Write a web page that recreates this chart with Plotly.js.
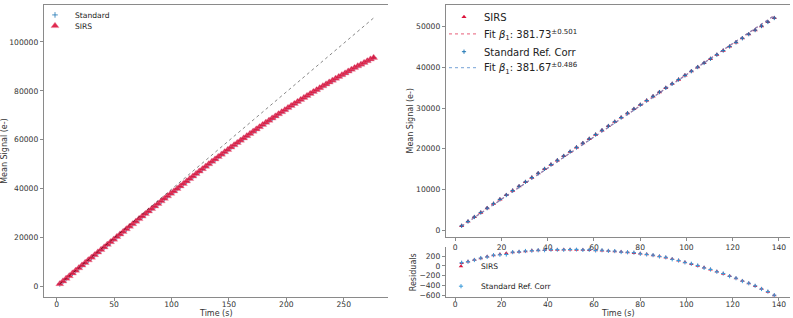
<!DOCTYPE html>
<html>
<head>
<meta charset="utf-8">
<script src="https://cdn.plot.ly/plotly-3.0.1.min.js"></script>
<style>html,body{margin:0;padding:0;background:#fff;}#chart{width:793px;height:318px;}</style>
</head>
<body>
<div id="chart"></div>
<script>
// ---- data ----
const time = [2.76,5.52,8.28,11.04,13.8,16.56,19.32,22.08,24.84,27.6,30.36,33.12,35.88,38.64,41.4,44.16,46.92,49.68,52.44,55.2,
57.96,60.72,63.48,66.24,69,71.76,74.52,77.28,80.04,82.8,85.56,88.32,91.08,93.84,96.6,99.36,102.12,104.88,107.64,110.4,
113.16,115.92,118.68,121.44,124.2,126.96,129.72,132.48,135.24,138,140.76,143.52,146.28,149.04,151.8,154.56,157.32,160.08,162.84,165.6,
168.36,171.12,173.88,176.64,179.4,182.16,184.92,187.68,190.44,193.2,195.96,198.72,201.48,204.24,207,209.76,212.52,215.28,218.04,220.8,
223.56,226.32,229.08,231.84,234.6,237.36,240.12,242.88,245.64,248.4,251.16,253.92,256.68,259.44,262.2,264.96,267.72,270.48,273.24,276];

const sirsLeft = [1116,2197,3291,4372,5460,6540,7615,8689,9763,10830,11890,12958,14018,15079,16136,17192,18247,19300,20353,21404,
22455,23504,24551,25597,26641,27684,28725,29768,30808,31845,32880,33911,34940,35964,36985,38005,39023,40040,41055,42069,
43080,44090,45098,46103,47107,48107,49106,50101,51095,52079,53059,54033,55001,55962,56918,57867,58810,59748,60679,61604,
62522,63435,64342,65242,66136,67025,67907,68783,69653,70516,71374,72225,73071,73910,74743,75570,76391,77206,78014,78817,
79613,80404,81188,81966,82738,83504,84263,85017,85764,86506,87241,87970,88693,89410,90120,90825,91523,92216,92902,93582];

const standardLeft = [1121,2194,3283,4375,5453,6541,7604,8663,9765,10824,11894,12954,14017,15072,16137,17189,18240,19299,20355,21398,
22453,23494,24551,25591,26640,27675,28723,29770,30799,31839,32878,33904,34940,35953,36981,37996,39021,40040,41044,42065,
43070,44088,45087,46099,47094,48102,49103,50090,51091,52063,53071,54015,55026,55954,56933,57845,58816,59767,60668,61607,
62506,63456,64337,65251,66112,67039,67904,68800,69644,70542,71360,72229,73051,73921,74736,75588,76379,77229,78012,78825,
79594,80417,81182,81988,82723,83509,84253,85033,85743,86513,87237,87990,88680,89420,90103,90849,91522,92228,92894,93588];

// reference straight line on the left panel
const refLineX = [2.76, 276];
const refLineY = [1100, 109800];

// right panel (first 50 frames)
const timeRight = time.slice(0, 50);
const sirsRight = sirsLeft.slice(0, 50);
const stdRefCorr = [1121,2194,3283,4375,5453,6541,7604,8663,9765,10824,11894,12954,14017,15072,16137,17189,18240,19299,20355,21398,
22453,23494,24551,25591,26640,27675,28723,29770,30799,31839,32878,33904,34940,35953,36981,37996,39021,40040,41044,42065,
43070,44088,45087,46099,47094,48102,49103,50090,51091,52063];

const fitX = [2.76, 138];
const fitSirs = [1054, 52679];
const fitStd = [1053, 52670];

const resSirs = [62,90,130,158,192,219,240,260,281,294,301,315,322,329,332,335,336,336,335,333,
330,325,319,311,302,291,279,268,254,238,219,197,172,143,110,76,41,4,-34,-74,
-116,-160,-206,-254,-304,-357,-412,-470,-530,-600];
const resStd = [67,87,122,162,186,221,230,235,284,290,307,313,323,324,335,335,332,338,340,330,
331,319,323,309,305,286,281,274,250,237,222,195,177,137,112,73,45,10,-39,-72,
-119,-155,-210,-251,-310,-355,-407,-473,-526,-600];

const leftTicks = [0, 50, 100, 150, 200, 250];
const leftYTicks = [0, 20000, 40000, 60000, 80000, 100000];
const rightTicks = [0, 20, 40, 60, 80, 100, 120, 140];
const rightYTicks = [0, 10000, 20000, 30000, 40000, 50000];
const resYTicks = [-600, -400, -200, 0, 200];

// ---- styling ----
const RED = 'crimson';
const BLUE = '#1f77b4';
const FONT = 'DejaVu Sans';
const W = 793, H = 318;
const px = v => v / W, py = v => 1 - v / H;

const axisBase = {
  showgrid: false, zeroline: false, showline: true, linecolor: '#8a8a8a', linewidth: 1.2,
  ticks: 'outside', ticklen: 3, tickwidth: 1, tickcolor: '#8a8a8a',
  tickfont: {family: FONT, size: 7.6, color: '#333'}, tickformat: 'd', fixedrange: true
};
const titleFont = {family: FONT, size: 8, color: '#333'};

const traces = [
  {x: time, y: standardLeft, type: 'scatter', mode: 'markers', name: 'Standard',
   marker: {symbol: 'cross-thin', size: 4, line: {color: 'rgba(31,119,180,0.8)', width: 1}}, xaxis: 'x', yaxis: 'y', legend: 'legend'},
  {x: time, y: sirsLeft, type: 'scatter', mode: 'markers', name: 'SIRS',
   marker: {symbol: 'triangle-up', size: 7, color: RED, opacity: 0.9, line: {color: 'rgba(240,120,150,0.7)', width: 0.6}},
   xaxis: 'x', yaxis: 'y', legend: 'legend2'},
  {x: refLineX, y: refLineY, type: 'scatter', mode: 'lines', showlegend: false,
   line: {color: 'rgba(0,0,0,0.6)', width: 0.8, dash: 'dot'}, xaxis: 'x', yaxis: 'y'},

  {x: timeRight, y: sirsRight, type: 'scatter', mode: 'markers', name: 'SIRS',
   marker: {symbol: 'triangle-up', size: 4.5, color: RED, line: {width: 0}}, xaxis: 'x2', yaxis: 'y2', legend: 'legend3'},
  {x: fitX, y: fitSirs, type: 'scatter', mode: 'lines', name: 'Fit <i>β</i><sub>1</sub>: 381.73<sup>±0.501</sup>',
   line: {color: 'rgba(220,20,60,0.55)', width: 1.2, dash: 'dot'}, xaxis: 'x2', yaxis: 'y2', legend: 'legend4'},
  {x: timeRight, y: stdRefCorr, type: 'scatter', mode: 'markers', name: 'Standard Ref. Corr',
   marker: {symbol: 'cross-thin', size: 3, line: {color: BLUE, width: 1}}, xaxis: 'x2', yaxis: 'y2', legend: 'legend5'},
  {x: fitX, y: fitStd, type: 'scatter', mode: 'lines', name: 'Fit <i>β</i><sub>1</sub>: 381.67<sup>±0.486</sup>',
   line: {color: 'rgba(70,130,200,0.6)', width: 1.2, dash: 'dot'}, xaxis: 'x2', yaxis: 'y2', legend: 'legend6'},

  {x: timeRight, y: resSirs, type: 'scatter', mode: 'markers', name: 'SIRS',
   marker: {symbol: 'triangle-up', size: 4, color: RED, line: {width: 0}}, xaxis: 'x3', yaxis: 'y3', legend: 'legend7'},
  {x: timeRight, y: resStd, type: 'scatter', mode: 'markers', name: 'Standard Ref. Corr',
   marker: {symbol: 'cross-thin', size: 3, line: {color: '#3a9ad9', width: 1}}, xaxis: 'x3', yaxis: 'y3', legend: 'legend8'}
];

function leg(x, y, size) {
  return {x: px(x), y: py(y), xanchor: 'left', yanchor: 'middle', bgcolor: 'rgba(0,0,0,0)',
          borderwidth: 0, font: {family: FONT, size: size, color: '#222'}, itemclick: false};
}

const layout = {
  width: W, height: H, margin: {l: 0, r: 0, t: 0, b: 0}, paper_bgcolor: '#fff', plot_bgcolor: '#fff',
  showlegend: true, font: {family: FONT, color: '#333'},
  xaxis: Object.assign({}, axisBase, {domain: [px(44), px(388)], range: [-11, 288.5], tickvals: leftTicks, mirror: true,
    anchor: 'y', ticklabelstandoff: -3}),
  yaxis: Object.assign({}, axisBase, {domain: [1 - 297 / H, 1 - 3 / H], range: [-4300, 115100], tickvals: leftYTicks,
    anchor: 'x', title: {text: 'Mean Signal (e-)', font: titleFont, standoff: 2}}),
  xaxis2: Object.assign({}, axisBase, {domain: [px(446), px(790)], range: [-4, 144.8], tickvals: rightTicks, mirror: true,
    anchor: 'y2'}),
  yaxis2: Object.assign({}, axisBase, {domain: [1 - 236 / H, 1 - 3 / H], range: [-1500, 55260], tickvals: rightYTicks,
    anchor: 'x2', title: {text: 'Mean Signal (e-)', font: titleFont, standoff: 1}}),
  xaxis3: Object.assign({}, axisBase, {domain: [px(446), px(790)], range: [-4, 144.8], tickvals: rightTicks,
    anchor: 'y3', ticklabelstandoff: -3}),
  yaxis3: Object.assign({}, axisBase, {domain: [1 - 297 / H, 1 - 247 / H], range: [-640, 380], tickvals: resYTicks,
    anchor: 'x3', title: {text: 'Residuals', font: titleFont, standoff: 1}}),
  annotations: [
    {text: 'Time (s)', xref: 'paper', yref: 'paper', x: px(216), y: py(313), xanchor: 'center', yanchor: 'middle',
     showarrow: false, font: titleFont},
    {text: 'Time (s)', xref: 'paper', yref: 'paper', x: px(618), y: py(313), xanchor: 'center', yanchor: 'middle',
     showarrow: false, font: titleFont}
  ],
  legend: leg(35, 13, 7.6),
  legend2: leg(35, 24, 7.6),
  legend3: leg(444, 15, 10),
  legend4: leg(444, 32, 10),
  legend5: leg(444, 50, 10),
  legend6: leg(444, 66, 10),
  legend7: leg(441, 266, 7.6),
  legend8: leg(441, 286, 7.6)
};

Plotly.newPlot('chart', traces, layout, {staticPlot: true, displayModeBar: false});
</script>
</body>
</html>
